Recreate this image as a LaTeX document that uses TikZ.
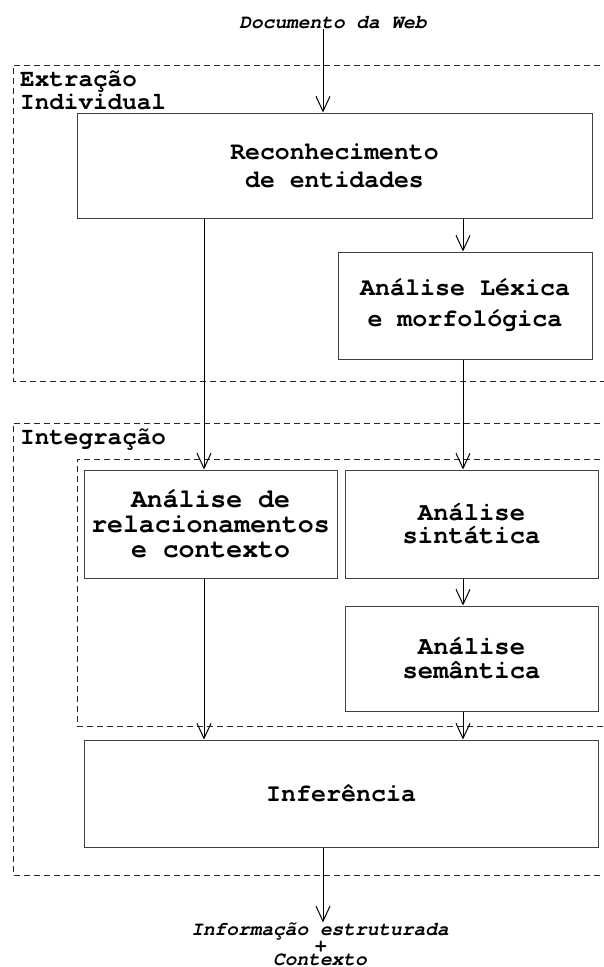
\documentclass[tikz,border=0pt]{standalone}
\usepackage{fontspec}
\setmonofont{texgyrecursor}[Extension=.otf, UprightFont=*-regular, BoldFont=*-bold, ItalicFont=*-italic, BoldItalicFont=*-bolditalic]
\usetikzlibrary{arrows.meta}
\tikzset{
  bloco/.style={draw=black!75, line width=1pt, inner sep=0pt, align=center},
  tam/.style 2 args={font=\ttfamily\bfseries\fontsize{#1}{#2}\selectfont},
  fluxo/.style={line width=1pt, -{Straight Barb[length=15pt,width=14pt,line width=1pt]}},
  regiao/.style={draw=black!85, line width=1pt, dash pattern=on 6pt off 4pt},
  rotulo/.style={inner sep=0pt, align=left, anchor=north west, tam={24.3}{19}},
  ponta/.style={inner sep=0pt, align=center, font=\ttfamily\bfseries\itshape\fontsize{19.5}{13.5}\selectfont}
}
\begin{document}
\begin{tikzpicture}[x=1pt, y=-1pt]
  \useasboundingbox (0,0) rectangle (604,967);
  % colunas dos conectores
  \coordinate (mcol) at (323,0);
  \coordinate (lcol) at (204,0);
  \coordinate (rcol) at (463,0);
  % regioes tracejadas
  \draw[regiao] (620,65) -- (13,65) -- (13,381) -- (620,381);
  \draw[regiao] (620,423) -- (13,423) -- (13,875) -- (620,875);
  \draw[regiao] (620,459) -- (77,459) -- (77,726) -- (620,726);
  \node[rotulo] (extr) at (20,71) {Extração\\Individual};
  \node[rotulo] (integ) at (20,429) {Integração};
  % entrada e saida
  \node[ponta] (doc) at (333,23) {Documento da Web};
  \node[ponta] (info) at (320,944) {Informação estruturada\\+\\Contexto};
  % etapas
  \node[bloco, tam={24.8}{28}, minimum width=515, minimum height=105] (rec) at (334.5,165.5) {Reconhecimento\\de entidades};
  \node[bloco, tam={25}{31}, minimum width=254, minimum height=107] (lex) at (465,305.5) {Análise Léxica\\e morfológica};
  \node[bloco, tam={26.5}{25}, minimum width=253, minimum height=108] (rel) at (210.5,524) {Análise de\\relacionamentos\\e contexto};
  \node[bloco, tam={25.5}{23}, minimum width=253, minimum height=108] (sint) at (471.5,524) {Análise\\sintática};
  \node[bloco, tam={25.5}{24}, minimum width=253, minimum height=105] (sem) at (471.5,658.5) {Análise\\semântica};
  \node[bloco, tam={25}{28}, minimum width=514, minimum height=107] (inf) at (341,793.5) {Inferência};
  % conectores
  \draw[fluxo] (doc.south -| mcol) -- (rec.north -| mcol);
  \draw[fluxo] (rec.south -| lcol) -- (rel.north -| lcol);
  \draw[fluxo] (rec.south -| rcol) -- (lex.north -| rcol);
  \draw[fluxo] (lex.south -| rcol) -- (sint.north -| rcol);
  \draw[fluxo] (sint.south -| rcol) -- (sem.north -| rcol);
  \draw[fluxo] (rel.south -| lcol) -- (inf.north -| lcol);
  \draw[fluxo] (sem.south -| rcol) -- (inf.north -| rcol);
  \draw[fluxo] (inf.south -| mcol) -- (info.north -| mcol);
\end{tikzpicture}
\end{document}
